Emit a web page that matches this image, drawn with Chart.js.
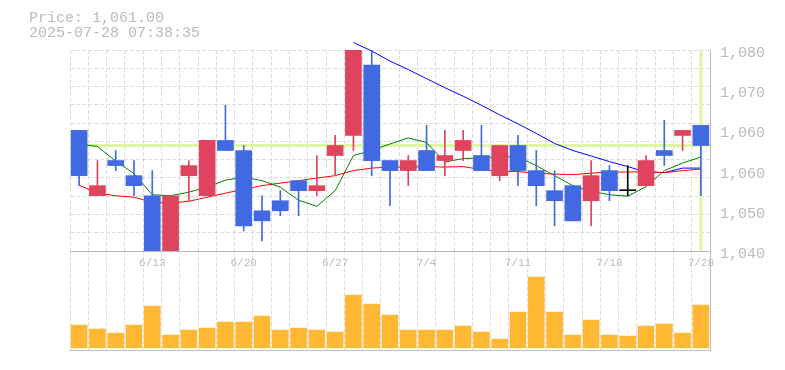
<!DOCTYPE html>
<html>
<head>
<meta charset="utf-8">
<script src="https://cdn.jsdelivr.net/npm/chart.js@4.4.1/dist/chart.umd.min.js"></script>
<style>
  html, body { margin: 0; padding: 0; background: #fff; }
  #wrap { position: relative; width: 785px; height: 370px; overflow: hidden; }
  #info { position: absolute; left: 29px; top: 11px; font: 15px/15px 'Liberation Mono', monospace; color: #bbb; white-space: pre; }
  #vol { position: absolute; left: 0; top: 240px; }
  #price { position: absolute; left: 0; top: 0; }
</style>
</head>
<body>
<div id="wrap">
  <canvas id="vol" width="785" height="120"></canvas>
  <canvas id="price" width="785" height="280"></canvas>
  <div id="info">Price: 1,061.00
2025-07-28 07:38:35</div>
</div>
<script>
// daily candles, 6/9 .. 7/28 (7/21 holiday)
const dates = ['6/9','6/10','6/11','6/12','6/13','6/16','6/17','6/18','6/19','6/20',
  '6/23','6/24','6/25','6/26','6/27','6/30','7/1','7/2','7/3','7/4',
  '7/7','7/8','7/9','7/10','7/11','7/14','7/15','7/16','7/17','7/18',
  '7/22','7/23','7/24','7/25','7/28'];
const tickDates = ['6/13','6/20','6/27','7/4','7/11','7/18','7/28'];

const opens  = [1064,1051,1058,1055,1051,1039,1055,1051,1062,1060,1048,1050,1054,1052,1059,1063,1077,1058,1056,1060,
                1058,1060,1059,1055,1061,1056,1052,1053,1050,1056,1052,1053,1060,1063,1065];
const highs  = [1064,1058,1060,1058,1056,1051,1058,1062,1069,1061,1051,1052,1054,1059,1063,1080,1080,1058,1059,1065,
                1064,1064,1065,1061,1063,1060,1056,1053,1058,1057,1057,1059,1066,1064,1065];
const lows   = [1053,1051,1056,1051,1038,1038,1050,1051,1060,1044,1042,1047,1047,1051,1055,1060,1055,1049,1053,1056,
                1055,1058,1056,1054,1053,1049,1045,1046,1045,1050,1051,1053,1057,1060,1051];
const closes = [1055,1053,1057,1053,1039,1051,1057,1062,1060,1045,1046,1048,1052,1053,1061,1080,1058,1056,1058,1056,
                1059,1062,1056,1061,1056,1053,1050,1046,1055,1052,1052,1058,1059,1064,1061];

// moving averages as drawn
const ma5  = [1061.3,1060.8,1057.9,1055.4,1051.2,1051.0,1051.7,1052.7,1054.1,1054.7,1054.0,1052.7,1050.1,1048.9,1052.0,
              1059.0,1060.0,1061.3,1062.5,1061.6,1057.7,1058.4,1058.5,1058.8,1058.7,1057.0,1055.0,1053.0,1051.9,1051.2,
              1050.9,1052.8,1056.0,1057.5,1058.7];
const ma25 = [1053.1,1051.5,1051.0,1050.7,1049.7,1049.5,1049.9,1050.7,1051.5,1052.3,1053.0,1053.5,1054.0,1054.5,1055.0,
              1056.0,1056.5,1056.7,1056.7,1056.8,1056.7,1056.8,1056.2,1055.9,1055.8,1055.5,1055.3,1055.2,1055.5,1055.7,
              1055.7,1055.8,1055.6,1056.0,1056.3];
const ma75 = [null,null,null,null,null,null,null,null,null,null,null,null,null,null,null,
              1081.5,1079.8,1077.8,1076.1,1074.3,1072.5,1070.8,1069.0,1067.1,1065.3,1063.4,1061.4,1060.0,1058.9,1057.8,
              1056.8,1055.7,1055.6,1056.5,1056.5];

const volumes = [6900,5700,4500,6900,12600,3900,5400,6000,7800,7800,9600,5400,6000,5400,4800,15900,13200,9900,5400,5400,
                 5400,6600,4800,2700,10800,21300,10800,3900,8400,3900,3600,6600,7200,4500,12900];

const yTickLabels = ['1,040','1,050','1,060','1,060','1,070','1,080'];

const cursorPrice = 1061;
const cursorIndex = 34;

const UP = '#e0435e', DOWN = '#4169e1', DOJI = '#000000';
const GRID = '#dddddd', AXIS = '#bbbbbb', TEXT = '#bbbbbb';

const candleColors = dates.map((d, i) => closes[i] > opens[i] ? UP : (closes[i] < opens[i] ? DOWN : DOJI));
const bodies = dates.map((d, i) => [opens[i], closes[i]]);
const wicks = dates.map((d, i) => [lows[i], highs[i]]);

// crosshair drawn under the candles
const crosshair = {
  id: 'crosshair',
  beforeDatasetsDraw(chart) {
    const {ctx, chartArea, scales} = chart;
    const y = scales.y.getPixelForValue(cursorPrice);
    const x = scales.x.getPixelForValue(cursorIndex);
    ctx.save();
    ctx.strokeStyle = '#e0f5a5';
    ctx.lineWidth = 3;
    ctx.beginPath();
    ctx.moveTo(chartArea.left, y);
    ctx.lineTo(chartArea.right, y);
    ctx.moveTo(x, chartArea.top);
    ctx.lineTo(x, chartArea.bottom);
    ctx.stroke();
    ctx.restore();
  }
};

new Chart(document.getElementById('price'), {
  type: 'bar',
  data: {
    labels: dates,
    datasets: [
      {data: bodies, backgroundColor: candleColors, barThickness: 16, grouped: false, minBarLength: 1, order: 0},
      {data: wicks, backgroundColor: candleColors, barThickness: 1, grouped: false, order: 1},
      {type: 'line', data: ma5, borderColor: '#008000', borderWidth: 1, pointRadius: 0, order: 2},
      {type: 'line', data: ma25, borderColor: '#ff0000', borderWidth: 1, pointRadius: 0, order: 3},
      {type: 'line', data: ma75, borderColor: '#0000ff', borderWidth: 1, pointRadius: 0, order: 4, clip: false}
    ]
  },
  options: {
    responsive: false,
    animation: false,
    layout: {padding: {top: 50, left: 70, right: 0, bottom: 0}},
    plugins: {legend: {display: false}, tooltip: {enabled: false}},
    scales: {
      x: {
        offset: true,
        grid: {offset: true, color: GRID, drawTicks: false},
        border: {color: AXIS, dash: [4, 2]},
        ticks: {
          autoSkip: false, maxRotation: 0, padding: 5, color: TEXT,
          font: {family: 'Liberation Mono', size: 11},
          callback: (v, i) => tickDates.includes(dates[i]) ? dates[i] : ''
        },
        afterFit: s => { s.height = 29; }
      },
      y: {
        position: 'right', min: 1040, max: 1080,
        grid: {display: false, drawTicks: false},
        border: {color: AXIS},
        ticks: {
          stepSize: 8, padding: 10, labelOffset: 3, color: TEXT,
          font: {family: 'Liberation Mono', size: 15},
          callback: (v, i) => yTickLabels[i]
        },
        afterFit: s => { s.width = 75; }
      },
      gy: {
        position: 'left', min: 0, max: 11,
        grid: {color: GRID, drawTicks: false},
        border: {display: false, dash: [4, 2]},
        ticks: {display: false, stepSize: 1},
        afterFit: s => { s.width = 0; }
      }
    }
  },
  plugins: [crosshair]
});

new Chart(document.getElementById('vol'), {
  type: 'bar',
  data: {
    labels: dates,
    datasets: [{data: volumes, backgroundColor: '#ffb833', barThickness: 16}]
  },
  options: {
    responsive: false,
    animation: false,
    layout: {padding: {top: 10.5, left: 70, right: 0, bottom: 10}},
    plugins: {legend: {display: false}, tooltip: {enabled: false}},
    scales: {
      x: {
        offset: true,
        grid: {offset: true, color: GRID, drawTicks: false},
        border: {color: AXIS, dash: [4, 2]},
        ticks: {display: false},
        afterFit: s => { s.height = 0; }
      },
      y: {
        position: 'right', min: -600, max: 29250,
        grid: {display: false, drawTicks: false},
        border: {color: AXIS},
        ticks: {display: false},
        afterFit: s => { s.width = 75; }
      }
    }
  }
});
</script>
</body>
</html>
